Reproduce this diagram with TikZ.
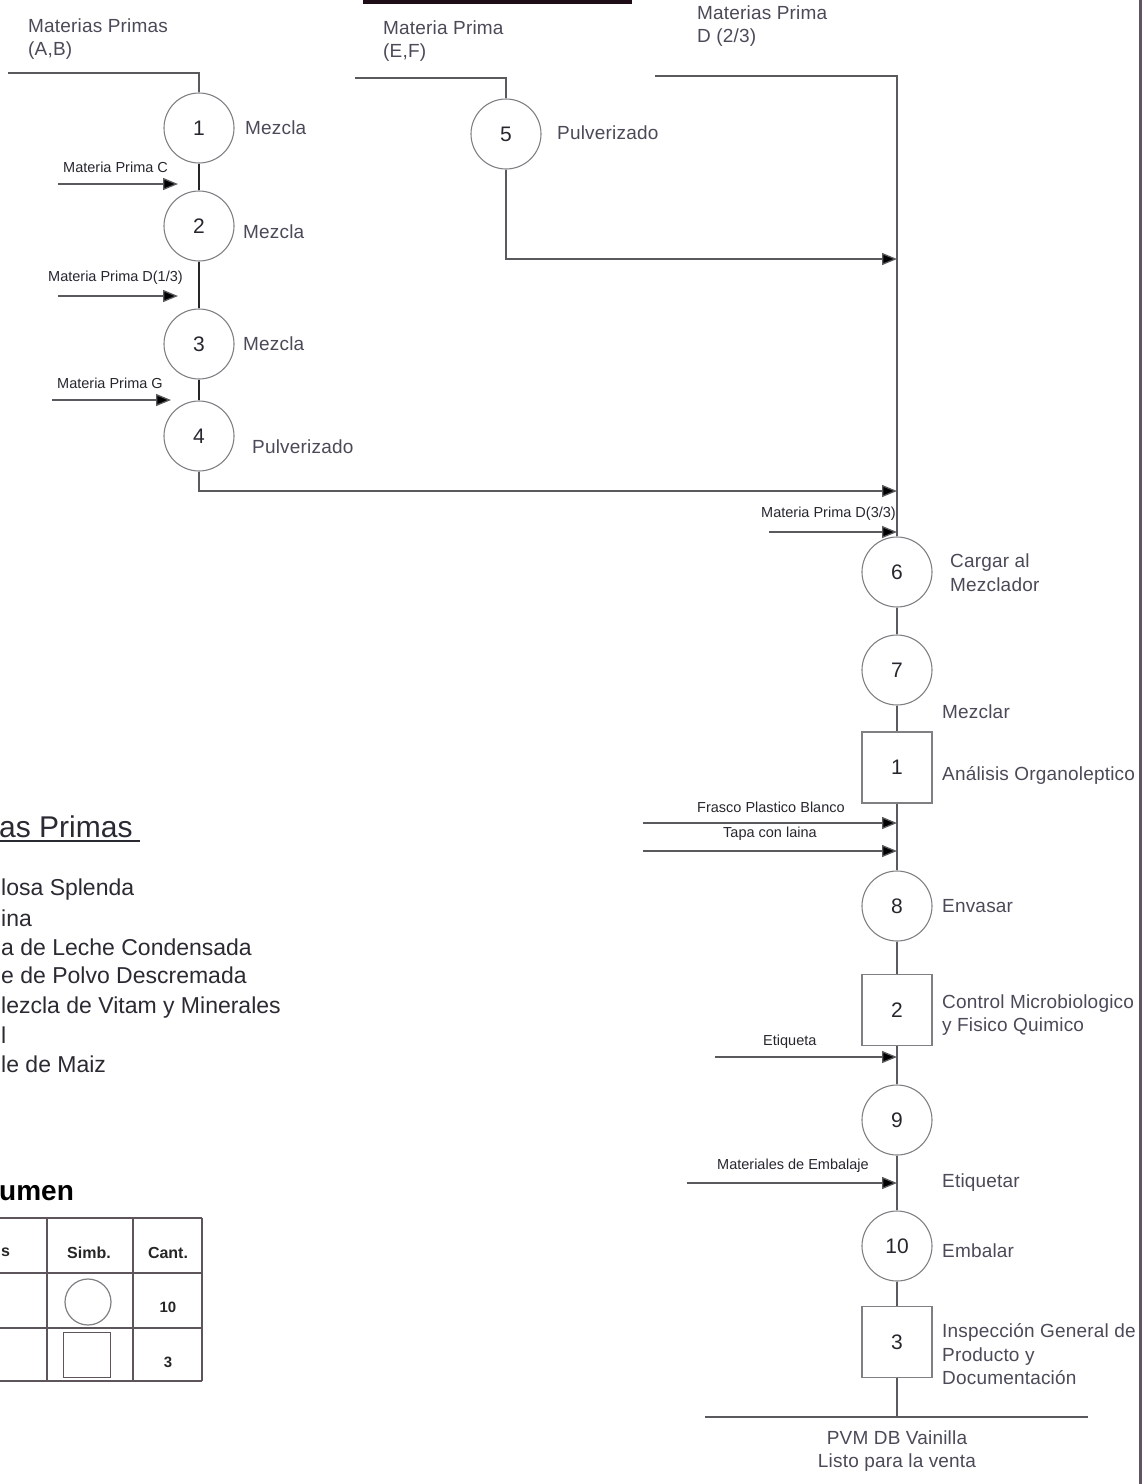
\documentclass[tikz,border=0pt]{standalone}
\usepackage{fontspec}
\setmainfont{Liberation Sans}
\usetikzlibrary{arrows.meta}
\definecolor{linec}{HTML}{5A5A5E}
\definecolor{shapec}{HTML}{808084}
\definecolor{labelc}{HTML}{4A4A58}
\definecolor{smallc}{HTML}{26262F}
\definecolor{legendc}{HTML}{2A2A33}
\definecolor{framec}{HTML}{5E5560}
\definecolor{tablec}{HTML}{5E545C}
\definecolor{barc}{HTML}{1E0C16}
\begin{document}
\begin{tikzpicture}[x=1pt,y=-1pt,
  proc/.style={circle,draw=shapec,line width=1.1pt,minimum size=70pt,inner sep=0pt,
    text=smallc,font=\fontsize{21pt}{24pt}\selectfont},
  insp/.style={rectangle,draw=shapec,line width=1.3pt,minimum width=70pt,minimum height=71pt,
    inner sep=0pt,text=smallc,font=\fontsize{21pt}{24pt}\selectfont},
  lbl/.style={inner sep=0pt,text=labelc,align=left,
    font=\fontsize{19pt}{23.5pt}\selectfont\addfontfeatures{LetterSpace=1}},
  small/.style={inner sep=0pt,text=smallc,font=\fontsize{14.5pt}{16pt}\selectfont},
  legend/.style={inner sep=0pt,anchor=west,text=legendc,font=\fontsize{23pt}{28pt}\selectfont},
  flow/.style={draw=linec,line width=1.3pt},
  chain/.style={draw=black!85,line width=2.2pt},
  feed/.style={draw=linec,line width=1.3pt,-{Triangle[length=15pt,width=12pt,fill=black]}},
  tab/.style={draw=tablec,line width=1.6pt},
  tabtxt/.style={inner sep=0pt,text=black!85,font=\bfseries\fontsize{16pt}{18pt}\selectfont}]
\useasboundingbox (0,0) rectangle (1147,1484);

% top bar and right frame
\fill[barc] (363,0) rectangle (632,4);
\draw[framec,line width=3pt] (1140,0) -- (1140,1484);

% --- left branch: operations 1 to 4
\node[proc] (c1) at (199,128) {1};
\node[proc] (c2) at (199,226) {2};
\node[proc] (c3) at (199,344) {3};
\node[proc] (c4) at (199,436) {4};
\node[lbl,anchor=west] (t1) at (245,128) {Mezcla};
\node[lbl,anchor=west] (t2) at (243,232) {Mezcla};
\node[lbl,anchor=west] (t3) at (243,344) {Mezcla};
\node[lbl,anchor=west] (t4) at (252,447) {Pulverizado};

\node[lbl,anchor=west] (inAB) at (28,39) {Materias Primas\\(A,B)};
\coordinate (ab0) at (8,73);
\draw[flow] (ab0) -| (c1.north);
\draw[chain] (c1.south) -- (c2.north);
\draw[chain] (c2.south) -- (c3.north);
\draw[chain] (c3.south) -- (c4.north);

\coordinate (fC0) at (58,184);  \coordinate (fC1) at (178,184);
\coordinate (fD0) at (58,296);  \coordinate (fD1) at (178,296);
\coordinate (fG0) at (52,400);  \coordinate (fG1) at (171,400);
\draw[feed] (fC0) -- (fC1);
\draw[feed] (fD0) -- (fD1);
\draw[feed] (fG0) -- (fG1);
\node[small,anchor=west] (lC) at (63,167) {Materia Prima C};
\node[small,anchor=west] (lD) at (48,278) {Materia Prima D(1/3)};
\node[small,anchor=west] (lG) at (57,383) {Materia Prima G};

% --- middle branch: operation 5
\node[proc] (c5) at (506,134) {5};
\node[lbl,anchor=west] (t5) at (557,133) {Pulverizado};
\node[lbl,anchor=west] (inEF) at (383,41) {Materia Prima\\(E,F)};
\coordinate (ef0) at (355,78);
\draw[flow] (ef0) -| (c5.north);

% --- main line
\node[lbl,anchor=west] (inD2) at (697,26) {Materias Prima\\D (2/3)};
\node[proc] (c6) at (897,572) {6};
\node[proc] (c7) at (897,670) {7};
\node[insp] (s1) at (897,767.5) {1};
\node[proc] (c8) at (897,906) {8};
\node[insp] (s2) at (897,1010) {2};
\node[proc] (c9) at (897,1120) {9};
\node[proc] (c10) at (897,1246) {10};
\node[insp] (s3) at (897,1342) {3};
\coordinate (d0) at (655,76);
\coordinate (m5) at (897,259);
\coordinate (m4) at (897,491);
\coordinate (endp) at (897,1417);
\draw[flow] (d0) -| (c6.north);
\draw[feed] (c5.south) |- (m5);
\draw[feed] (c4.south) |- (m4);
\draw[flow] (c6) -- (c7) -- (s1) -- (c8) -- (s2) -- (c9) -- (c10) -- (s3) -- (endp);

\node[lbl,anchor=west] (t6) at (950,572.5) {Cargar al\\Mezclador};
\node[lbl,anchor=west] (t7) at (942,712) {Mezclar};
\node[lbl,anchor=west] (ts1) at (942,775) {Análisis Organoleptico};
\node[lbl,anchor=west] (t8) at (942,906) {Envasar};
\node[lbl,anchor=west] (ts2) at (942,1015) {Control Microbiologico\\y Fisico Quimico};
\node[lbl,anchor=west] (t9) at (942,1183) {Etiquetar};
\node[lbl,anchor=west] (t10) at (942,1251) {Embalar};
\node[lbl,anchor=west] (ts3) at (942,1354.5) {Inspección General de\\Producto y\\Documentación};

% feeds into the main line
\coordinate (fD3a) at (769,532);  \coordinate (fD3b) at (897,532);
\coordinate (fFa) at (643,823);   \coordinate (fFb) at (897,823);
\coordinate (fTa) at (643,851);   \coordinate (fTb) at (897,851);
\coordinate (fEa) at (715,1057);  \coordinate (fEb) at (897,1057);
\coordinate (fMa) at (687,1183);  \coordinate (fMb) at (897,1183);
\draw[feed] (fD3a) -- (fD3b);
\draw[feed] (fFa) -- (fFb);
\draw[feed] (fTa) -- (fTb);
\draw[feed] (fEa) -- (fEb);
\draw[feed] (fMa) -- (fMb);
\node[small,anchor=west] (lD3) at (761,514) {Materia Prima D(3/3)};
\node[small,anchor=west] (lF) at (697,807) {Frasco Plastico Blanco};
\node[small,anchor=west] (lT) at (723,834) {Tapa con laina};
\node[small,anchor=west] (lE) at (763,1042) {Etiqueta};
\node[small,anchor=west] (lM) at (717,1166) {Materiales de Embalaje};

% finished product
\coordinate (b0) at (705,1417);
\coordinate (b1) at (1088,1417);
\draw[flow] (b0) -- (b1);
\node[lbl,align=center] (prod) at (897,1451) {PVM DB Vainilla\\Listo para la venta};

% --- raw material list
\node[legend,font=\fontsize{30pt}{34pt}\selectfont] (lh) at (-1,827) {as Primas};
\draw[legendc,line width=1.5pt] (0,841) -- (140,841);
\node[legend] (l1) at (1,890) {losa Splenda};
\node[legend] (l2) at (1,918) {ina};
\node[legend] (l3) at (1,947) {a de Leche Condensada};
\node[legend] (l4) at (1,975) {e de Polvo Descremada};
\node[legend] (l5) at (1,1008) {lezcla de Vitam y Minerales};
\node[legend] (l6) at (1,1035) {l};
\node[legend] (l7) at (1,1064) {le de Maiz};

% --- summary table
\node[inner sep=0pt,anchor=west,text=black,font=\bfseries\fontsize{28pt}{32pt}\selectfont] (rh) at (-1,1193) {umen};
\draw[tab] (0,1218) -- (202,1218);
\draw[tab] (0,1273) -- (202,1273);
\draw[tab] (0,1328) -- (202,1328);
\draw[tab] (0,1381) -- (202,1381);
\draw[tab] (47,1218) -- (47,1381);
\draw[tab] (133,1218) -- (133,1381);
\draw[tab] (202,1218) -- (202,1381);
\node[tabtxt,anchor=west] (h0) at (1,1252) {s};
\node[tabtxt] (h1) at (89,1253) {Simb.};
\node[tabtxt] (h2) at (168,1253) {Cant.};
\node[circle,draw=shapec,line width=1.2pt,minimum size=46pt,inner sep=0pt] (sym1) at (88,1302) {};
\node[rectangle,draw=tablec,line width=1.3pt,minimum width=47pt,minimum height=45pt,inner sep=0pt] (sym2) at (87,1355) {};
\node[tabtxt,font=\bfseries\fontsize{15pt}{17pt}\selectfont] (n1) at (168,1307) {10};
\node[tabtxt,font=\bfseries\fontsize{15pt}{17pt}\selectfont] (n2) at (168,1362) {3};
\end{tikzpicture}
\end{document}
